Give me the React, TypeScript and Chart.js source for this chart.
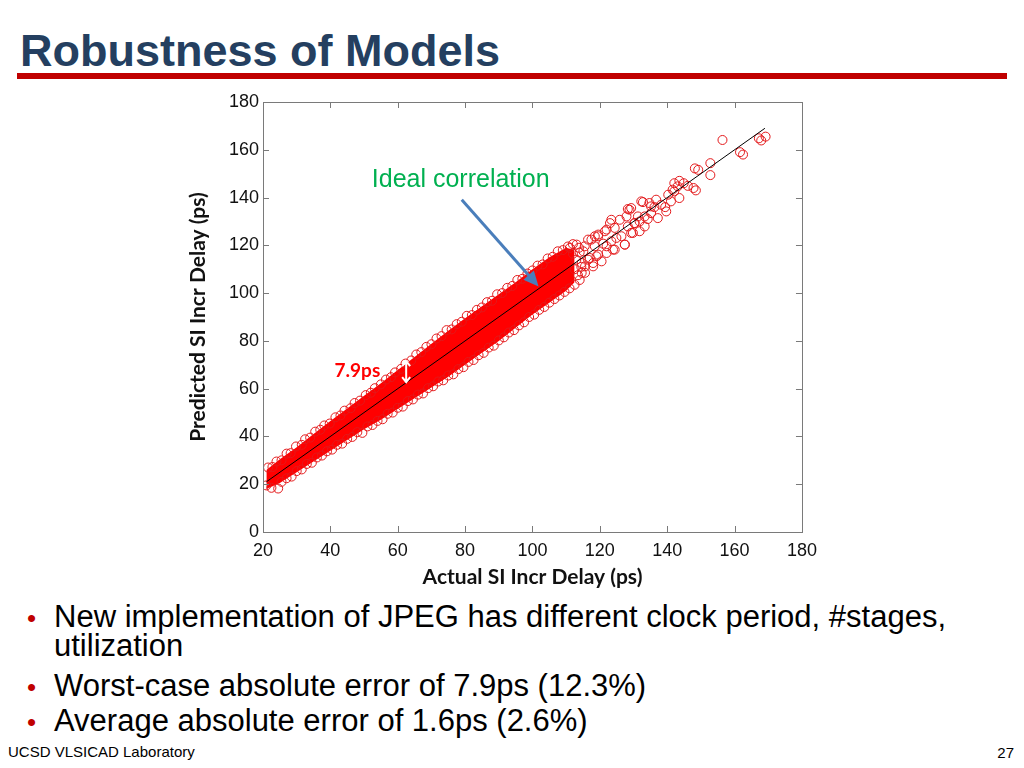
import React, { useEffect, useRef } from "react";
import { Chart, registerables } from "chart.js";

Chart.register(...registerables);

// ---- axis ticks ----
const xTicks = [20, 40, 60, 80, 100, 120, 140, 160, 180];
const yTicks = [0, 20, 40, 60, 80, 100, 120, 140, 160, 180];

// ---- dense band (solid red region) envelope ----
const bandX = [21, 25, 30, 35, 40, 45, 50, 55, 60, 65, 70, 75, 80, 85, 90, 95, 100, 105, 110, 112.5];
const bandUpper = [26, 30.5, 35.5, 41, 46.5, 51.7, 57, 62.3, 67.8, 73.3, 78.8, 84.2, 89.5, 94.5, 99.5, 104.5, 110, 115, 119, 118];
const bandLower = [18, 20.5, 25, 29.5, 34, 38.5, 43, 47, 51.5, 56, 60.5, 65, 70, 75, 80, 85.5, 91, 96, 101, 104.5];

// ---- circles along the band's upper edge ----
const upperEdgePts: [number, number][] = [
  [21.5, 27], [22.8, 27.2], [24, 29.5], [25.5, 30], [27, 32.8], [28.2, 33], [29.8, 35.8], [31.5, 36.5],
  [32.5, 38.8], [34, 39.5], [35.5, 42], [37, 42.8], [38.2, 44.6], [39.8, 45.4], [41.5, 48], [43, 48.8],
  [44.2, 50.8], [46, 51.8], [47.2, 54], [48.8, 55], [50.5, 57.3], [52, 58.3], [53.2, 60.2], [55, 61.8],
  [56.5, 63.8], [58, 64.8], [59.2, 66.8], [61, 68.3], [62.3, 70.5], [64, 71.8], [65.5, 74.3], [67, 75.3],
  [68.5, 77.5], [70, 78.6], [71.5, 81], [73, 82], [74.5, 84.5], [76, 84.8], [77.5, 87], [79, 88],
  [80.5, 90.5], [82, 90.8], [83.5, 93], [85, 94], [86.5, 96.2], [88, 96.8], [89.5, 99.5], [91, 100],
  [92.5, 102.2], [94, 103], [95.5, 105.5], [97, 106], [98.5, 108.2], [100, 109.5], [101.5, 111.5], [103, 112],
  [104.5, 114.5], [106, 115.2], [107.5, 117.5], [109, 118], [110.5, 119.5], [112, 120.5],
];

// ---- circles along the band's lower edge ----
const lowerEdgePts: [number, number][] = [
  [21, 19.5], [22.5, 18.5], [24.5, 18.2], [25.5, 21], [27, 22.5], [28.5, 23.2], [30, 25.5], [31.5, 26.2],
  [33, 28.5], [34.5, 29], [36, 31.2], [37.5, 32], [39, 33.8], [40.5, 34.5], [42, 36.5], [43.5, 37],
  [45, 39], [46.5, 39.8], [48, 41.8], [49.5, 41.5], [51, 44.2], [52.5, 44.8], [54, 46.5], [55.5, 47.2],
  [57, 49.5], [58.5, 50], [60, 52], [61.5, 52.5], [63, 54.8], [64.5, 55.5], [66, 57.5], [67.5, 58],
  [69, 60.2], [70.5, 61], [72, 63], [73.5, 63.5], [75, 65.5], [76.5, 66], [78, 68.2], [79.5, 69],
  [81, 71.2], [82.5, 72], [84, 74], [85.5, 75], [87, 77.2], [88.5, 78], [90, 80.2], [91.5, 81.5],
  [93, 83.5], [94.5, 84.5], [96, 86.5], [97.5, 87.8], [99, 90], [100.5, 91], [102, 93], [103.5, 94.2],
  [105, 96], [106.5, 97.5], [108, 99], [109.5, 100.5], [111, 102], [112.5, 103.5], [114, 105.5],
];

// ---- circles around the right end of the dense band ----
const bandEndPts: [number, number][] = [
  [113, 114], [114, 117], [112.5, 110], [114.5, 111], [113.5, 107.5], [112, 116.5], [113.8, 119],
];

// ---- sparse points above ~110 ps ----
const sparsePts: [number, number][] = [
  [156.4, 164.1], [167.2, 164.8], [167.9, 163.9], [169.2, 165.5], [161.6, 159.0], [162.5, 158.0],
  [152.8, 154.4], [152.8, 149.4], [148.2, 152.2], [149.2, 151.6], [142.1, 146.0], [143.6, 147.0],
  [144.9, 146.0], [143.1, 144.7], [146.1, 144.9], [147.8, 144.0], [148.5, 143.0], [141.6, 143.3],
  [140.3, 141.2], [143.6, 139.8], [141.1, 138.4], [136.7, 139.1], [138.2, 137.0], [139.4, 136.0],
  [136.2, 136.0], [134.7, 137.7], [132.8, 138.1], [129.3, 135.6], [128.3, 135.2], [137.2, 131.4],
  [134.2, 131.0], [131.3, 132.1], [131.8, 130.0], [133.3, 127.9], [129.3, 125.2], [128.3, 127.9],
  [125.9, 130.7], [123.4, 130.7], [124.4, 127.3], [122.0, 126.6], [119.5, 123.8], [117.5, 122.4],
  [115.5, 119.6], [118.5, 119.6], [121.0, 120.7], [123.4, 121.7], [126.4, 123.8], [127.4, 120.3],
  [124.4, 118.2], [122.0, 116.8], [119.0, 115.4], [116.5, 114.0], [114.6, 112.6], [115.6, 108.5],
  [118.0, 111.2], [120.5, 113.3], [131.8, 125.9], [130.3, 129.3], [135.2, 133.5], [139.7, 134.2],
  [142.1, 142.6], [111.1, 118.9], [113.1, 120.3], [115.1, 117.5], [116.5, 122.4], [118.5, 123.8],
  [119.5, 124.5], [121.5, 125.9], [123.0, 129.3], [122.0, 119.6], [123.9, 118.2], [119.5, 116.1],
  [117.0, 114.7], [115.6, 111.2], [118.0, 112.6], [114.6, 108.5], [124.9, 123.1], [127.4, 120.3],
  [128.8, 134.9], [127.9, 132.1], [132.3, 138.4], [135.2, 136.3], [130.3, 129.3], [129.8, 125.2],
  [133.3, 132.1],
];

// ---- ideal correlation line (y = x) ----
const idealLine = [21, 169];

const toXY = (pts: [number, number][]) => pts.map(([x, y]) => ({ x, y }));

const tickFont = { family: '"Liberation Sans", Arial, sans-serif', size: 18 };
const titleFont = { family: 'Lato, "Open Sans", sans-serif', size: 21, weight: "bold" as const };

function arrowHead(ctx: CanvasRenderingContext2D, x0: number, y0: number, x1: number, y1: number, len: number, half: number) {
  const a = Math.atan2(y1 - y0, x1 - x0);
  ctx.beginPath();
  ctx.moveTo(x1, y1);
  ctx.lineTo(x1 - len * Math.cos(a) + half * Math.sin(a), y1 - len * Math.sin(a) - half * Math.cos(a));
  ctx.lineTo(x1 - len * Math.cos(a) - half * Math.sin(a), y1 - len * Math.sin(a) + half * Math.cos(a));
  ctx.closePath();
  ctx.fill();
}

const framePlugin = {
  id: "frameAndNotes",
  afterDatasetsDraw(chart: any) {
    const { ctx, chartArea: a, scales } = chart;
    const xs = scales.x;
    const ys = scales.y;
    ctx.save();
    // frame
    ctx.strokeStyle = "#7a7a7a";
    ctx.lineWidth = 1;
    ctx.strokeRect(Math.round(a.left) + 0.5, Math.round(a.top) + 0.5, Math.round(a.right - a.left), Math.round(a.bottom - a.top));
    // inside ticks
    ctx.beginPath();
    xTicks.forEach((v) => {
      const px = Math.round(xs.getPixelForValue(v)) + 0.5;
      ctx.moveTo(px, a.bottom);
      ctx.lineTo(px, a.bottom - 6);
      ctx.moveTo(px, a.top);
      ctx.lineTo(px, a.top + 6);
    });
    yTicks.forEach((v) => {
      const py = Math.round(ys.getPixelForValue(v)) + 0.5;
      ctx.moveTo(a.left, py);
      ctx.lineTo(a.left + 6, py);
      ctx.moveTo(a.right, py);
      ctx.lineTo(a.right - 6, py);
    });
    ctx.stroke();

    // "Ideal correlation" label and arrow
    ctx.fillStyle = "#00b050";
    ctx.font = '25px "Liberation Sans", Arial, sans-serif';
    ctx.textAlign = "center";
    ctx.textBaseline = "middle";
    ctx.fillText("Ideal correlation", xs.getPixelForValue(78.7), ys.getPixelForValue(147.5));

    const ax0 = xs.getPixelForValue(79.0), ay0 = ys.getPixelForValue(139.1);
    const ax1 = xs.getPixelForValue(101.8), ay1 = ys.getPixelForValue(102.8);
    ctx.strokeStyle = "#4a7ebb";
    ctx.fillStyle = "#4a7ebb";
    ctx.lineWidth = 3;
    const ang = Math.atan2(ay1 - ay0, ax1 - ax0);
    ctx.beginPath();
    ctx.moveTo(ax0, ay0);
    ctx.lineTo(ax1 - 12 * Math.cos(ang), ay1 - 12 * Math.sin(ang));
    ctx.stroke();
    arrowHead(ctx, ax0, ay0, ax1, ay1, 15, 7);

    // 7.9ps label and white double arrow
    ctx.fillStyle = "#ff0000";
    ctx.font = 'bold 19px Lato, "Open Sans", sans-serif';
    ctx.textAlign = "right";
    ctx.fillText("7.9ps", xs.getPixelForValue(54.8), ys.getPixelForValue(67.5));

    const dx = xs.getPixelForValue(62.5);
    const dTop = ys.getPixelForValue(71.5);
    const dBot = ys.getPixelForValue(62.7);
    ctx.strokeStyle = "#ffffff";
    ctx.lineWidth = 2;
    ctx.beginPath();
    ctx.moveTo(dx, dTop);
    ctx.lineTo(dx, dBot);
    ctx.moveTo(dx - 4, dTop + 5);
    ctx.lineTo(dx, dTop);
    ctx.lineTo(dx + 4, dTop + 5);
    ctx.moveTo(dx - 4, dBot - 5);
    ctx.lineTo(dx, dBot);
    ctx.lineTo(dx + 4, dBot - 5);
    ctx.stroke();
    ctx.restore();
  },
};

function ScatterChart() {
  const ref = useRef<HTMLCanvasElement | null>(null);
  useEffect(() => {
    if (!ref.current) return;
    const circle = {
      showLine: false,
      pointStyle: "circle",
      pointRadius: 4.5,
      pointBorderWidth: 1,
      borderColor: "#e3191b",
      pointBorderColor: "#e3191b",
      backgroundColor: "rgba(0,0,0,0)",
      pointBackgroundColor: "rgba(0,0,0,0)",
      order: 2,
    };
    const chart = new Chart(ref.current, {
      type: "scatter",
      data: {
        datasets: [
          {
            label: "band lower",
            data: bandX.map((x, i) => ({ x, y: bandLower[i] })),
            showLine: true,
            pointRadius: 0,
            borderWidth: 0,
            borderColor: "rgba(0,0,0,0)",
            fill: false,
            order: 3,
          },
          {
            label: "band upper",
            data: bandX.map((x, i) => ({ x, y: bandUpper[i] })),
            showLine: true,
            pointRadius: 0,
            borderWidth: 0,
            borderColor: "rgba(0,0,0,0)",
            backgroundColor: "#ff0000",
            fill: "-1",
            order: 3,
          },
          { label: "upper edge", data: toXY(upperEdgePts), ...circle },
          { label: "lower edge", data: toXY(lowerEdgePts), ...circle },
          { label: "band end", data: toXY(bandEndPts), ...circle },
          { label: "sparse", data: toXY(sparsePts), ...circle },
          {
            label: "ideal",
            data: idealLine.map((v) => ({ x: v, y: v })),
            showLine: true,
            pointRadius: 0,
            borderColor: "#000000",
            borderWidth: 1,
            order: 1,
          },
        ] as any,
      },
      options: {
        animation: false,
        responsive: false,
        maintainAspectRatio: false,
        events: [],
        layout: { padding: { top: 17, right: 20, left: 0, bottom: 0 } },
        plugins: { legend: { display: false }, tooltip: { enabled: false } },
        scales: {
          x: {
            type: "linear",
            min: 20,
            max: 180,
            afterBuildTicks: (s: any) => {
              s.ticks = xTicks.map((v) => ({ value: v }));
            },
            afterFit: (s: any) => {
              s.height = 60;
            },
            ticks: { font: tickFont, color: "#111", padding: 8, maxRotation: 0, autoSkip: false },
            grid: { display: false, drawTicks: false },
            border: { display: false },
            title: {
              display: true,
              text: "Actual SI Incr Delay (ps)",
              font: titleFont,
              color: "#111",
              padding: { top: 2, bottom: 2 },
            },
          },
          y: {
            type: "linear",
            min: 0,
            max: 180,
            afterBuildTicks: (s: any) => {
              s.ticks = yTicks.map((v) => ({ value: v }));
            },
            afterFit: (s: any) => {
              s.width = 83;
            },
            ticks: { font: tickFont, color: "#111", padding: 4, autoSkip: false },
            grid: { display: false, drawTicks: false },
            border: { display: false },
            title: {
              display: true,
              text: "Predicted SI Incr Delay (ps)",
              font: titleFont,
              color: "#111",
              padding: { top: 6, bottom: 2 },
            },
          },
        },
      } as any,
      plugins: [framePlugin],
    });
    return () => chart.destroy();
  }, []);
  return <canvas ref={ref} width={645} height={507} style={{ position: "absolute", left: 180, top: 85 }} />;
}

const bulletStyle: React.CSSProperties = {
  position: "absolute",
  fontSize: 31,
  lineHeight: "31px",
  color: "#000",
  whiteSpace: "nowrap",
};

export default function App() {
  return (
    <div
      style={{
        position: "fixed",
        left: 0,
        top: 0,
        width: 1024,
        height: 768,
        background: "#fff",
        overflow: "hidden",
        fontFamily: '"Liberation Sans", Arial, sans-serif',
      }}
    >
      <div
        style={{
          position: "absolute",
          left: 20,
          top: 28,
          fontSize: 45,
          lineHeight: "45px",
          fontWeight: "bold",
          color: "#243f60",
          whiteSpace: "nowrap",
        }}
      >
        Robustness of Models
      </div>
      <div style={{ position: "absolute", left: 17, top: 73, width: 990, height: 6, background: "#c00000" }} />
      <ScatterChart />
      <div style={{ ...bulletStyle, fontSize: 26, left: 27, top: 603, color: "#c00000" }}>•</div>
      <div style={{ ...bulletStyle, left: 54, top: 601 }}>New implementation of JPEG has different clock period, #stages,</div>
      <div style={{ ...bulletStyle, left: 54, top: 630 }}>utilization</div>
      <div style={{ ...bulletStyle, fontSize: 26, left: 27, top: 672, color: "#c00000" }}>•</div>
      <div style={{ ...bulletStyle, left: 54, top: 670 }}>Worst-case absolute error of 7.9ps (12.3%)</div>
      <div style={{ ...bulletStyle, fontSize: 26, left: 27, top: 707, color: "#c00000" }}>•</div>
      <div style={{ ...bulletStyle, left: 54, top: 705 }}>Average absolute error of 1.6ps (2.6%)</div>
      <div style={{ position: "absolute", left: 8, top: 744, fontSize: 15, lineHeight: "15px", color: "#000", whiteSpace: "nowrap" }}>
        UCSD VLSICAD Laboratory
      </div>
      <div style={{ position: "absolute", right: 10, top: 745, fontSize: 15, lineHeight: "15px", color: "#000" }}>27</div>
    </div>
  );
}
